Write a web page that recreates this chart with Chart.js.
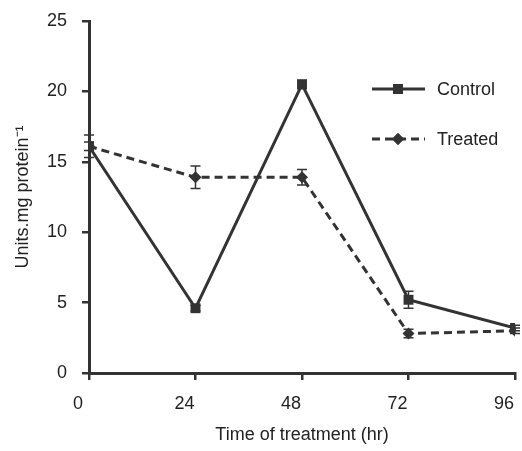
<!DOCTYPE html>
<html lang="en">
<head>
    <meta charset="UTF-8">
    <title>Units per mg protein over time</title>
    <script src="https://cdn.jsdelivr.net/npm/chart.js"></script>
    <style>
        html, body {
            margin: 0;
            padding: 0;
            background: #ffffff;
        }
        #chartBox {
            width: 522px;
            height: 451px;
        }
    </style>
</head>
<body>
    <div id="chartBox">
        <canvas id="myChart" width="522" height="451"></canvas>
    </div>

    <script>
        // data
        const hours = [0, 24, 48, 72, 96];
        const controlValues = [16.1, 4.6, 20.5, 5.2, 3.2];
        const controlErrors = [0.8, 0.2, 0.3, 0.6, 0.2];
        const treatedValues = [16.1, 13.9, 13.9, 2.8, 3.0];
        const treatedErrors = [0.3, 0.8, 0.55, 0.3, 0.2];
        const xTicks = [0, 24, 48, 72, 96];
        const yTicks = [0, 5, 10, 15, 20, 25];

        const ink = '#333333';
        const fontFamily = "'Liberation Sans', Arial, sans-serif";

        function toPoints(values) {
            return hours.map((h, i) => ({ x: h, y: values[i] }));
        }

        // error bars, drawn under the markers
        const errorBars = {
            id: 'errorBars',
            beforeDatasetsDraw(chart) {
                const ctx = chart.ctx;
                const xs = chart.scales.x, ys = chart.scales.y;
                const sets = [controlErrors, treatedErrors];
                ctx.save();
                ctx.strokeStyle = ink;
                ctx.lineWidth = 1.5;
                chart.data.datasets.forEach((ds, di) => {
                    ds.data.forEach((p, i) => {
                        const err = sets[di][i];
                        const px = xs.getPixelForValue(p.x);
                        const top = ys.getPixelForValue(p.y + err);
                        const bot = ys.getPixelForValue(p.y - err);
                        ctx.beginPath();
                        ctx.moveTo(px, top); ctx.lineTo(px, bot);
                        ctx.moveTo(px - 5, top); ctx.lineTo(px + 5, top);
                        ctx.moveTo(px - 5, bot); ctx.lineTo(px + 5, bot);
                        ctx.stroke();
                    });
                });
                ctx.restore();
            }
        };

        // legend inside the plot, line + marker like the original
        const insideLegend = {
            id: 'insideLegend',
            afterDraw(chart) {
                const ctx = chart.ctx;
                const rows = [
                    { label: 'Control', y: 89, dash: [], style: 'rect', r: 7 },
                    { label: 'Treated', y: 139, dash: [8, 5], style: 'rectRot', r: 6 }
                ];
                ctx.save();
                rows.forEach(row => {
                    ctx.strokeStyle = ink;
                    ctx.lineWidth = 3;
                    ctx.setLineDash(row.dash);
                    ctx.beginPath();
                    ctx.moveTo(372, row.y);
                    ctx.lineTo(425, row.y);
                    ctx.stroke();
                    ctx.setLineDash([]);
                    ctx.fillStyle = ink;
                    Chart.helpers.drawPoint(ctx, { pointStyle: row.style, radius: row.r, rotation: 0, borderWidth: 0 }, 398, row.y);
                    ctx.fill();
                    ctx.fillStyle = '#222';
                    ctx.font = '18px ' + fontFamily;
                    ctx.textBaseline = 'middle';
                    ctx.fillText(row.label, 437, row.y + 1);
                });
                ctx.restore();
            }
        };

        const ctx = document.getElementById('myChart').getContext('2d');
        const myChart = new Chart(ctx, {
            type: 'line',
            data: {
                datasets: [{
                    label: 'Control',
                    data: toPoints(controlValues),
                    borderColor: ink,
                    backgroundColor: ink,
                    borderWidth: 3,
                    pointStyle: 'rect',
                    pointRadius: 7,
                    pointBorderWidth: 0,
                    tension: 0
                }, {
                    label: 'Treated',
                    data: toPoints(treatedValues),
                    borderColor: ink,
                    backgroundColor: ink,
                    borderWidth: 3,
                    borderDash: [8, 5],
                    pointStyle: 'rectRot',
                    pointRadius: 6,
                    pointBorderWidth: 0,
                    tension: 0
                }]
            },
            options: {
                responsive: false,
                animation: false,
                layout: { padding: { top: 21, right: 7, bottom: 0, left: 0 } },
                plugins: {
                    legend: { display: false },
                    tooltip: { enabled: false }
                },
                scales: {
                    x: {
                        type: 'linear',
                        min: 0,
                        max: 96,
                        afterBuildTicks: s => { s.ticks = xTicks.map(v => ({ value: v })); },
                        afterFit: s => { s.height = 78; s.paddingLeft = 0; s.paddingRight = 0; },
                        grid: { drawOnChartArea: false, drawTicks: true, tickLength: 7, color: ink, lineWidth: 2.5 },
                        border: { color: ink, width: 3 },
                        ticks: {
                            color: '#222',
                            padding: 13,
                            labelOffset: -11,
                            maxRotation: 0,
                            font: { family: fontFamily, size: 18 }
                        },
                        title: {
                            display: true,
                            text: 'Time of treatment (hr)',
                            color: '#222',
                            padding: { top: 0, bottom: 5 },
                            font: { family: fontFamily, size: 18 }
                        }
                    },
                    y: {
                        min: 0,
                        max: 25,
                        afterBuildTicks: s => { s.ticks = yTicks.map(v => ({ value: v })); },
                        afterFit: s => { s.width = 89; s.paddingTop = 0; s.paddingBottom = 0; },
                        grid: { drawOnChartArea: false, drawTicks: true, tickLength: 7, color: ink, lineWidth: 2.5 },
                        border: { color: ink, width: 3 },
                        ticks: {
                            color: '#222',
                            padding: 15,
                            font: { family: fontFamily, size: 18 }
                        },
                        title: {
                            display: true,
                            text: 'Units.mg protein\u207B\u00B9',
                            color: '#222',
                            padding: { top: 12, bottom: 0 },
                            font: { family: fontFamily, size: 18 }
                        }
                    }
                }
            },
            plugins: [errorBars, insideLegend]
        });
    </script>
</body>
</html>
